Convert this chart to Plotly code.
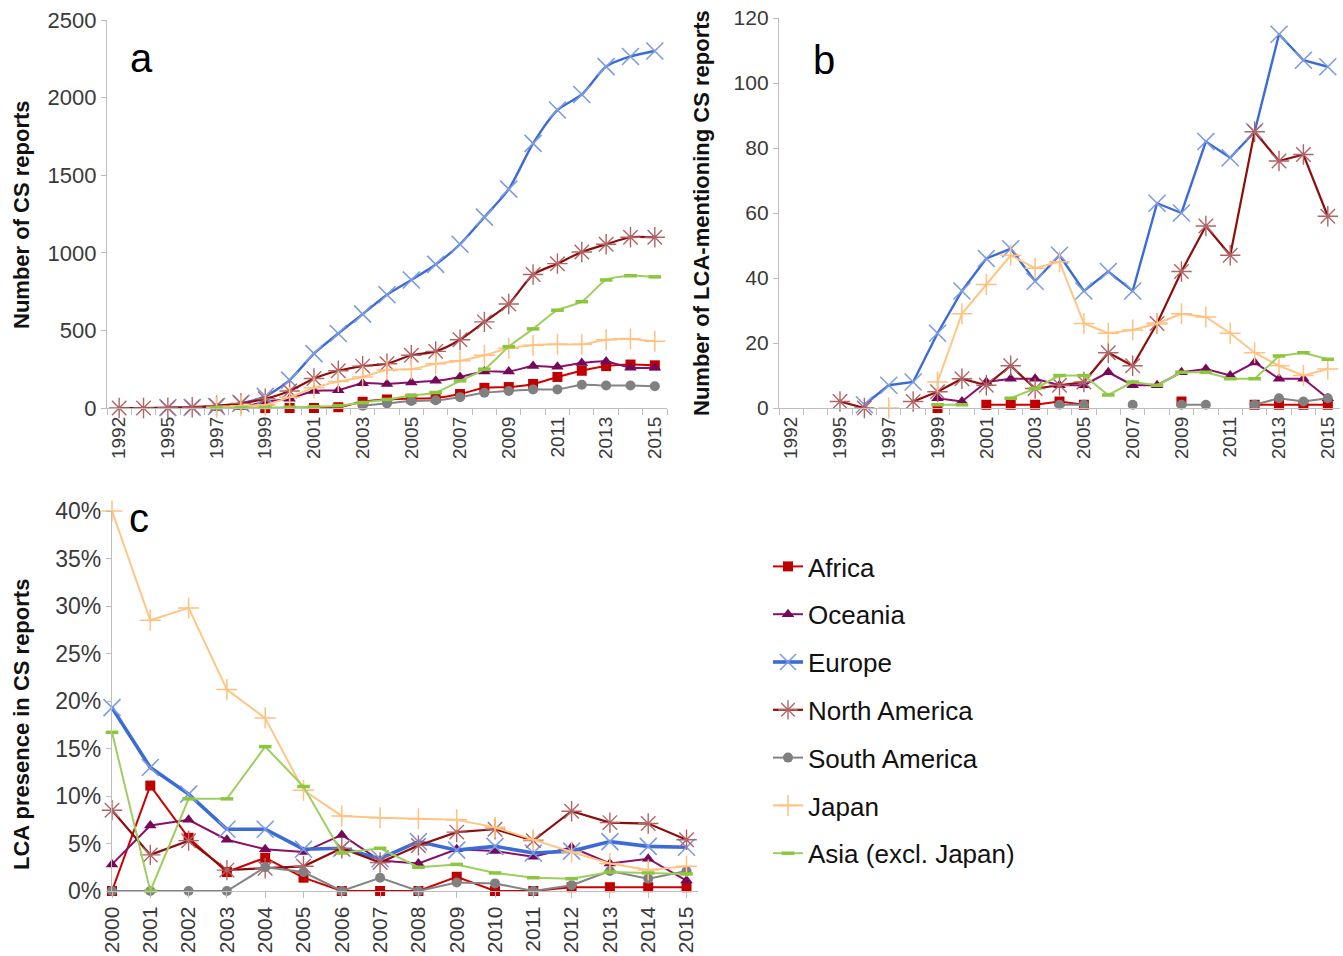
import plotly.graph_objects as go

# ---- categories ----
years_ab = ["1992", "1993"] + [str(y) for y in range(1995, 2016)]
tick_ab = [y if i % 2 == 0 else "" for i, y in enumerate(years_ab)]
years_c = [str(y) for y in range(2000, 2016)]

N = None

# ---- (a) number of CS reports ----
a_africa = [N, N, N, N, N, N, 0, 0, 0, 5, 40, 55, 60, 65, 90, 130, 135, 155, 200, 240, 270, 280, 275]
a_oceania = [N, N, N, N, 0, 5, 40, 60, 110, 115, 160, 155, 165, 175, 200, 235, 235, 270, 265, 290, 300, 260, 260]
a_europe = [N, N, 2, 4, 10, 30, 75, 180, 350, 480, 605, 730, 825, 925, 1055, 1230, 1410, 1705, 1920, 2020, 2200, 2265, 2300]
a_namerica = [0, 0, 2, 5, 15, 30, 60, 110, 190, 240, 270, 285, 340, 365, 440, 555, 670, 860, 930, 1005, 1055, 1100, 1100]
a_samerica = [N, N, N, N, N, N, N, N, N, N, 15, 30, 45, 50, 70, 98, 110, 120, 120, 150, 145, 145, 140]
a_japan = [N, N, N, N, 5, 15, 20, 70, 130, 170, 200, 245, 250, 285, 305, 340, 385, 405, 410, 410, 440, 445, 430]
a_asia = [N, N, N, N, 0, 2, 3, 5, 8, 15, 35, 55, 80, 100, 175, 250, 395, 510, 630, 685, 825, 852, 845]

# ---- (b) number of LCA-mentioning CS reports ----
b_africa = [N, N, N, N, N, N, 0, N, 1, 1, 1, 2, 1, N, N, N, 2, N, N, 1, 1, 1, 1]
b_oceania = [N, N, N, N, N, N, 3, 2, 8, 9, 9, 7, 7, 11, 7, 7, 11, 12, 10, 14, 9, 9, 3]
b_europe = [N, N, N, 1, 7, 8, 23, 36, 46, 49, 39, 47, 36, 42, 36, 63, 60, 82, 77, 85, 115, 107, 105]
b_namerica = [N, N, 2, 0, N, 2, 5, 9, 7, 13, 6, 7, 8, 17, 13, 26, 42, 56, 47, 85, 76, 78, 59]
b_samerica = [N, N, N, N, N, N, N, N, N, N, N, 1, 1, N, 1, N, 1, 1, N, 1, 3, 2, 3]
b_japan = [N, N, N, N, 0, N, 8, 29, 38, 47, 43, 45, 26, 23, 24, 26, 29, 28, 23, 17, 13, 10, 12]
b_asia = [N, N, N, N, N, N, 1, 1, N, 3, 6, 10, 10, 4, 8, 7, 11, 11, 9, 9, 16, 17, 15]

# ---- (c) LCA presence in CS reports (percent) ----
c_africa = [0, 11.1, 5.6, 2.0, 3.5, 1.4, 0, 0, 0, 1.5, 0, 0, 0.4, 0.4, 0.4, 0.4]
c_oceania = [2.8, 6.9, 7.5, 5.4, 4.4, 4.1, 5.9, 3.2, 2.9, 4.4, 4.2, 3.6, 4.6, 2.9, 3.4, 1.1]
c_europe = [19.3, 13.0, 10.2, 6.5, 6.5, 4.4, 4.5, 3.4, 5.2, 4.3, 4.7, 4.0, 4.2, 5.2, 4.7, 4.6]
c_namerica = [8.5, 3.8, 5.3, 2.2, 2.4, 2.6, 4.5, 3.0, 4.8, 6.2, 6.5, 5.3, 8.4, 7.2, 7.1, 5.4]
c_samerica = [0, 0, 0, 0, 2.5, 2.0, 0, 1.4, 0, 0.9, 0.8, 0, 0.6, 2.1, 1.3, 2.1]
c_japan = [40.0, 28.5, 29.8, 21.2, 18.2, 10.6, 7.9, 7.7, 7.6, 7.5, 6.7, 5.4, 4.1, 2.9, 2.2, 2.6]
c_asia = [16.7, 0, 9.7, 9.7, 15.2, 11.0, 4.0, 4.5, 2.5, 2.8, 1.9, 1.4, 1.3, 2.0, 1.9, 1.8]

regions = ["Africa", "Oceania", "Europe", "North America", "South America", "Japan", "Asia (excl. Japan)"]
data_a = [a_africa, a_oceania, a_europe, a_namerica, a_samerica, a_japan, a_asia]
data_b = [b_africa, b_oceania, b_europe, b_namerica, b_samerica, b_japan, b_asia]
# percentages -> fractions for the % axis
data_c = [[v / 100 for v in s] for s in
          (c_africa, c_oceania, c_europe, c_namerica, c_samerica, c_japan, c_asia)]

styles = {
    "Africa": dict(lc="#D00000", sym="square", mc="#C00000", ms=10, lw=2, mlw=0),
    "Oceania": dict(lc="#8A0F6A", sym="triangle-up", mc="#76085A", ms=11, lw=2, mlw=0),
    "Europe": dict(lc="#3B6BD6", sym="x-thin-open", mc="#7C9BE0", ms=17, lw=2.4, mlw=1.6),
    "North America": dict(lc="#8E0E0E", sym="asterisk-open", mc="#B26464", ms=17, lw=2.2, mlw=1.4),
    "South America": dict(lc="#848484", sym="circle", mc="#808080", ms=10, lw=2, mlw=0),
    "Japan": dict(lc="#FFC585", sym="cross-thin-open", mc="#FFC080", ms=15, lw=2, mlw=1.5),
    "Asia (excl. Japan)": dict(lc="#9CCF5E", sym="line-ew-open", mc="#8CC63F", ms=9, lw=2, mlw=3.5),
}

fig = go.Figure()


def add_series(x, ys, xa, ya, show_legend, shape, europe_lw=None):
    for name, y in zip(regions, ys):
        s = styles[name]
        lw = s["lw"]
        if europe_lw is not None and name == "Europe":
            lw = europe_lw
        fig.add_trace(go.Scatter(
            x=x, y=y, name=name, mode="lines+markers",
            xaxis=xa, yaxis=ya, legendgroup=name, showlegend=show_legend,
            line=dict(color=s["lc"], width=lw, shape=shape, smoothing=0.7),
            marker=dict(symbol=s["sym"], size=s["ms"], color=s["mc"],
                        line=dict(color=s["mc"], width=s["mlw"])),
            connectgaps=False, cliponaxis=False,
        ))


add_series(years_ab, data_a, "x", "y", False, "spline")
add_series(years_ab, data_b, "x2", "y2", False, "linear")
add_series(years_c, data_c, "x3", "y3", True, "linear", europe_lw=3.6)

W, H = 1343, 956


def px_x(p):
    return p / W


def px_y(p):
    return 1 - p / H


axis_col = "#BDBDBD"
FONT = "Liberation Sans, Arial, sans-serif"
TICK_COL = "#3A3A3A"

common_x = dict(type="category", showline=True, linecolor=axis_col, linewidth=1.3,
                ticks="outside", ticklen=6, tickcolor=axis_col,
                tickangle=-90, showgrid=False, zeroline=False, automargin=False,
                tickfont=dict(family=FONT, size=19, color=TICK_COL))
common_y = dict(showline=True, linecolor=axis_col, linewidth=1.3, ticks="outside",
                ticklen=5, tickcolor=axis_col, showgrid=False, zeroline=False,
                automargin=False)

n_ab = len(years_ab)
n_c = len(years_c)

fig.update_layout(
    width=W, height=H,
    margin=dict(l=0, r=0, t=0, b=0, autoexpand=False),
    paper_bgcolor="white", plot_bgcolor="white",
    font=dict(family=FONT, color="#222222"),
    xaxis=dict(common_x, domain=[px_x(107), px_x(667)], anchor="y",
               range=[-0.5, n_ab - 0.5], tickson="boundaries",
               tickmode="array", tickvals=years_ab, ticktext=tick_ab),
    yaxis=dict(common_y, domain=[px_y(408), px_y(20)], anchor="x",
               range=[0, 2500], dtick=500,
               tickfont=dict(family=FONT, size=22, color=TICK_COL)),
    xaxis2=dict(common_x, domain=[px_x(779), px_x(1340)], anchor="y2",
                range=[-0.5, n_ab - 0.5], tickson="boundaries",
                tickmode="array", tickvals=years_ab, ticktext=tick_ab),
    yaxis2=dict(common_y, domain=[px_y(408), px_y(18)], anchor="x2",
                range=[0, 120], dtick=20,
                tickfont=dict(family=FONT, size=21, color=TICK_COL)),
    xaxis3=dict(common_x, domain=[px_x(112), px_x(698)], anchor="y3",
                range=[0, n_c - 1 + 0.3],
                tickfont=dict(family=FONT, size=21, color=TICK_COL)),
    yaxis3=dict(common_y, domain=[px_y(891), px_y(511)], anchor="x3",
                range=[0, 0.40], dtick=0.05, tickformat=".0%",
                tickfont=dict(family=FONT, size=23, color=TICK_COL)),
    legend=dict(x=px_x(768), y=px_y(543), xanchor="left", yanchor="top",
                font=dict(family=FONT, size=26, color="#111111"),
                tracegroupgap=11, itemwidth=30, bgcolor="rgba(0,0,0,0)"),
    showlegend=True,
)

title_font = dict(family=FONT, size=22, color="#111111")
annotations = [
    dict(text="<b>Number of CS reports</b>", x=px_x(21), y=px_y(215), textangle=-90),
    dict(text="<b>Number of LCA-mentioning CS reports</b>", x=px_x(701), y=px_y(213), textangle=-90),
    dict(text="<b>LCA presence in CS reports</b>", x=px_x(21), y=px_y(725), textangle=-90),
]
for a in annotations:
    fig.add_annotation(xref="paper", yref="paper", showarrow=False, font=title_font,
                       xanchor="center", yanchor="middle", **a)

letter_font = dict(family=FONT, size=40, color="#000000")
for t, x, y in [("a", 141, 58), ("b", 824, 60), ("c", 139, 518)]:
    fig.add_annotation(text=t, xref="paper", yref="paper", x=px_x(x), y=px_y(y),
                       showarrow=False, font=letter_font, xanchor="center", yanchor="middle")

fig.write_html("out.html")
